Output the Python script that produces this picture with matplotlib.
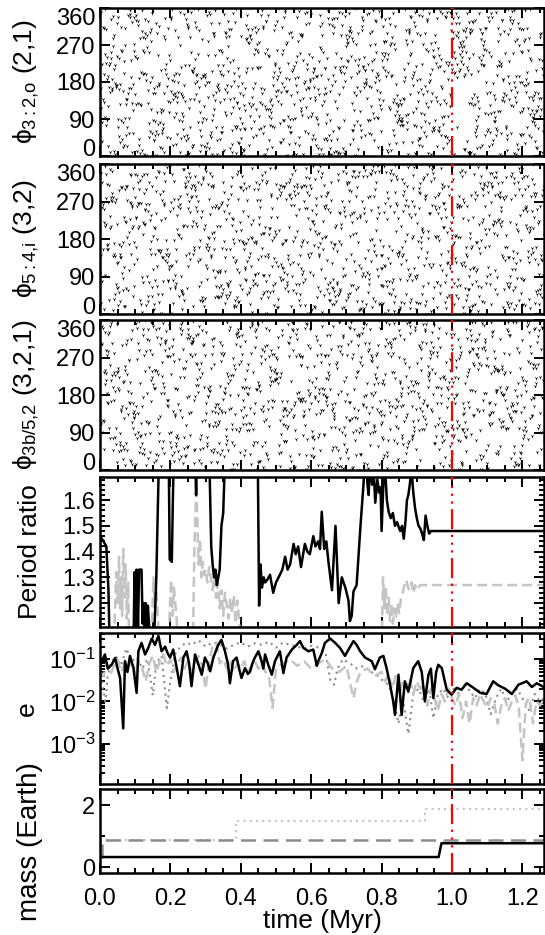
import numpy as np
import matplotlib
matplotlib.use("Agg")
import matplotlib.pyplot as plt
from matplotlib.ticker import MultipleLocator, LogLocator, NullFormatter, FixedLocator

plt.rcParams['font.family'] = ['Liberation Sans', 'DejaVu Sans']
plt.rcParams['mathtext.fontset'] = 'custom'
plt.rcParams['mathtext.rm'] = 'Liberation Sans'
plt.rcParams['mathtext.it'] = 'Liberation Sans'

# ---- data ----
# period ratio, outer pair (black) and inner pair (grey dashed); values off the axis are clipped
pr_black_t = [0.000, 0.010, 0.018, 0.024, 0.028, 0.095, 0.098, 0.101, 0.104, 0.108, 0.111, 0.118,
              0.121, 0.124, 0.127, 0.130, 0.133, 0.136, 0.140, 0.145, 0.152, 0.160, 0.168, 0.195,
              0.198, 0.204, 0.207, 0.210, 0.270, 0.273, 0.276, 0.310, 0.316, 0.320, 0.324, 0.328,
              0.332, 0.336, 0.340, 0.345, 0.350, 0.356, 0.448, 0.452, 0.456, 0.460, 0.465, 0.469,
              0.475, 0.483, 0.492, 0.500, 0.511, 0.518, 0.526, 0.533, 0.540, 0.550, 0.556, 0.563,
              0.571, 0.582, 0.589, 0.596, 0.606, 0.612, 0.620, 0.625, 0.630, 0.637, 0.643, 0.649,
              0.659, 0.669, 0.673, 0.678, 0.687, 0.697, 0.706, 0.710, 0.715, 0.720, 0.729, 0.740,
              0.749, 0.754, 0.760, 0.763, 0.768, 0.773, 0.778, 0.782, 0.788, 0.793, 0.797, 0.800,
              0.805, 0.810, 0.815, 0.820, 0.826, 0.832, 0.838, 0.844, 0.850, 0.853, 0.858, 0.863,
              0.868, 0.872, 0.876, 0.880, 0.885, 0.890, 0.895, 0.900, 0.905, 0.910, 0.915, 0.920,
              0.925, 0.930, 0.935, 0.940, 1.265]
pr_black = [1.46, 1.44, 1.42, 1.25, 1.00, 1.00, 1.32, 1.10, 1.33, 1.10, 1.33, 1.33,
            1.12, 1.20, 1.10, 1.20, 1.10, 1.19, 1.10, 1.00, 1.00, 1.30, 1.80, 1.80,
            1.37, 1.36, 1.60, 1.80, 1.80, 1.62, 1.80, 1.80, 1.42, 1.35, 1.30, 1.33,
            1.27, 1.30, 1.33, 1.50, 1.55, 1.80, 1.80, 1.19, 1.35, 1.26, 1.30, 1.28,
            1.29, 1.31, 1.24, 1.28, 1.31, 1.33, 1.38, 1.33, 1.35, 1.43, 1.39, 1.42,
            1.34, 1.43, 1.40, 1.39, 1.46, 1.42, 1.44, 1.41, 1.555, 1.41, 1.44, 1.36,
            1.25, 1.50, 1.37, 1.20, 1.30, 1.26, 1.21, 1.13, 1.15, 1.245, 1.27, 1.50,
            1.67, 1.80, 1.66, 1.62, 1.75, 1.66, 1.70, 1.59, 1.68, 1.63, 1.65, 1.48,
            1.66, 1.72, 1.60, 1.555, 1.53, 1.55, 1.50, 1.515, 1.49, 1.48, 1.50, 1.45,
            1.52, 1.60, 1.62, 1.66, 1.72, 1.63, 1.57, 1.53, 1.50, 1.49, 1.47, 1.445,
            1.54, 1.50, 1.47, 1.48, 1.48]

pr_grey_t = [0.000, 0.040, 0.042, 0.046, 0.050, 0.054, 0.057, 0.060, 0.063, 0.066, 0.070, 0.073,
             0.076, 0.080, 0.083, 0.145, 0.148, 0.152, 0.156, 0.160, 0.165, 0.170, 0.195, 0.198,
             0.202, 0.206, 0.210, 0.214, 0.218, 0.222, 0.262, 0.265, 0.268, 0.271, 0.274, 0.277,
             0.280, 0.284, 0.288, 0.292, 0.296, 0.300, 0.305, 0.310, 0.315, 0.320, 0.325, 0.330,
             0.335, 0.340, 0.345, 0.350, 0.355, 0.360, 0.365, 0.370, 0.375, 0.380, 0.385, 0.390,
             0.395, 0.400, 0.800, 0.804, 0.808, 0.812, 0.816, 0.820, 0.824, 0.828, 0.832, 0.836,
             0.840, 0.845, 0.850, 0.855, 0.860, 0.865, 0.870, 0.875, 0.880, 0.885, 0.890, 0.895,
             0.900, 0.910, 0.930, 1.265]
pr_grey = [1.00, 1.00, 1.15, 1.32, 1.20, 1.38, 1.18, 1.30, 1.15, 1.41, 1.22, 1.35,
           1.14, 1.28, 1.00, 1.00, 1.14, 1.30, 1.18, 1.24, 1.13, 1.00, 1.00, 1.17,
           1.29, 1.15, 1.26, 1.20, 1.13, 1.00, 1.00, 1.13, 1.40, 1.55, 1.66, 1.50,
           1.35, 1.45, 1.30, 1.36, 1.31, 1.33, 1.28, 1.34, 1.30, 1.25, 1.30, 1.22,
           1.28, 1.18, 1.25, 1.15, 1.24, 1.19, 1.14, 1.22, 1.16, 1.23, 1.12, 1.21,
           1.14, 1.00, 1.00, 1.30, 1.18, 1.26, 1.15, 1.22, 1.13, 1.20, 1.12, 1.18,
           1.14, 1.20, 1.16, 1.22, 1.24, 1.27, 1.29, 1.26, 1.25, 1.28, 1.24, 1.27,
           1.25, 1.27, 1.27, 1.27]

# eccentricities
e_black_t = [0.000, 0.005, 0.014, 0.022, 0.033, 0.043, 0.050, 0.057, 0.066, 0.071, 0.078, 0.085,
             0.095, 0.104, 0.109, 0.118, 0.128, 0.137, 0.147, 0.156, 0.166, 0.175, 0.185, 0.192,
             0.199, 0.208, 0.218, 0.227, 0.237, 0.246, 0.253, 0.260, 0.270, 0.280, 0.289, 0.298,
             0.306, 0.313, 0.322, 0.336, 0.345, 0.355, 0.364, 0.369, 0.378, 0.388, 0.397, 0.402,
             0.412, 0.420, 0.426, 0.433, 0.440, 0.450, 0.459, 0.464, 0.469, 0.478, 0.488, 0.497,
             0.511, 0.521, 0.530, 0.545, 0.559, 0.568, 0.578, 0.592, 0.606, 0.616, 0.620, 0.630,
             0.639, 0.654, 0.668, 0.682, 0.696, 0.706, 0.720, 0.729, 0.739, 0.753, 0.762, 0.772,
             0.781, 0.795, 0.805, 0.814, 0.824, 0.833, 0.838, 0.848, 0.857, 0.866, 0.876, 0.890,
             0.904, 0.914, 0.923, 0.933, 0.940, 0.947, 0.955, 0.961, 0.971, 0.985, 0.999, 1.013,
             1.027, 1.042, 1.061, 1.080, 1.098, 1.117, 1.132, 1.151, 1.170, 1.189, 1.212, 1.227,
             1.241, 1.260]
e_black = [0.07, 0.089, 0.13, 0.06, 0.074, 0.107, 0.06, 0.036, 0.0023, 0.09, 0.05, 0.12,
           0.062, 0.016, 0.155, 0.245, 0.13, 0.185, 0.31, 0.22, 0.36, 0.155, 0.2, 0.14,
           0.11, 0.17, 0.062, 0.023, 0.11, 0.155, 0.08, 0.023, 0.13, 0.074, 0.043, 0.11,
           0.08, 0.052, 0.11, 0.22, 0.29, 0.155, 0.074, 0.027, 0.09, 0.11, 0.052, 0.036,
           0.062, 0.045, 0.05, 0.08, 0.11, 0.155, 0.09, 0.06, 0.13, 0.074, 0.043, 0.09,
           0.155, 0.047, 0.11, 0.17, 0.22, 0.27, 0.185, 0.155, 0.17, 0.07, 0.09, 0.14,
           0.245, 0.31, 0.245, 0.185, 0.12, 0.17, 0.27, 0.22, 0.155, 0.11, 0.10, 0.09,
           0.058, 0.11, 0.12, 0.062, 0.025, 0.010, 0.0048, 0.043, 0.0048, 0.03, 0.017, 0.062,
           0.09, 0.05, 0.010, 0.043, 0.06, 0.012, 0.05, 0.074, 0.062, 0.019, 0.0145, 0.021,
           0.019, 0.027, 0.021, 0.016, 0.015, 0.03, 0.024, 0.02, 0.015, 0.025, 0.03, 0.022,
           0.027, 0.022]

e_dash_t = [0.000, 0.010, 0.020, 0.030, 0.040, 0.050, 0.060, 0.070, 0.080, 0.090, 0.100, 0.110,
            0.120, 0.130, 0.140, 0.150, 0.160, 0.170, 0.180, 0.190, 0.200, 0.210, 0.220, 0.230,
            0.240, 0.250, 0.260, 0.270, 0.280, 0.290, 0.300, 0.310, 0.320, 0.330, 0.340, 0.350,
            0.360, 0.370, 0.380, 0.390, 0.400, 0.410, 0.420, 0.430, 0.440, 0.450, 0.460, 0.470,
            0.480, 0.490, 0.500, 0.520, 0.540, 0.560, 0.580, 0.600, 0.620, 0.640, 0.660, 0.680,
            0.700, 0.720, 0.730, 0.740, 0.760, 0.780, 0.800, 0.810, 0.820, 0.830, 0.840, 0.850,
            0.860, 0.870, 0.880, 0.890, 0.900, 0.910, 0.920, 0.930, 0.940, 0.950, 0.960, 0.970,
            0.980, 0.990, 1.000, 1.010, 1.020, 1.030, 1.040, 1.050, 1.060, 1.070, 1.080, 1.090,
            1.100, 1.110, 1.120, 1.130, 1.140, 1.150, 1.160, 1.170, 1.180, 1.190, 1.200, 1.210,
            1.220, 1.230, 1.240, 1.250, 1.260]
e_dash = [0.05, 0.04, 0.08, 0.045, 0.07, 0.10, 0.05, 0.08, 0.06, 0.10, 0.045, 0.09,
          0.06, 0.03, 0.08, 0.12, 0.05, 0.09, 0.13, 0.07, 0.10, 0.05, 0.08, 0.11,
          0.06, 0.09, 0.05, 0.08, 0.12, 0.07, 0.02, 0.09, 0.20, 0.25, 0.08, 0.10,
          0.06, 0.09, 0.05, 0.08, 0.06, 0.09, 0.05, 0.07, 0.09, 0.06, 0.08, 0.05,
          0.04, 0.007, 0.06, 0.08, 0.10, 0.07, 0.09, 0.06, 0.08, 0.10, 0.06, 0.05,
          0.07, 0.012, 0.03, 0.05, 0.06, 0.04, 0.05, 0.03, 0.045, 0.02, 0.04, 0.015,
          0.03, 0.02, 0.035, 0.015, 0.03, 0.02, 0.025, 0.008, 0.02, 0.012, 0.006, 0.015,
          0.01, 0.02, 0.012, 0.008, 0.015, 0.004, 0.01, 0.003, 0.012, 0.008, 0.015, 0.01,
          0.007, 0.012, 0.009, 0.003, 0.008, 0.012, 0.006, 0.01, 0.014, 0.007, 0.0004, 0.009,
          0.012, 0.003, 0.01, 0.008, 0.011]

e_dot_t = [0.000, 0.008, 0.015, 0.022, 0.030, 0.045, 0.060, 0.075, 0.090, 0.105, 0.120, 0.135,
           0.150, 0.160, 0.175, 0.190, 0.200, 0.215, 0.230, 0.245, 0.260, 0.280, 0.300, 0.320,
           0.340, 0.360, 0.380, 0.400, 0.420, 0.440, 0.460, 0.480, 0.500, 0.520, 0.540, 0.560,
           0.580, 0.600, 0.620, 0.640, 0.655, 0.665, 0.675, 0.690, 0.710, 0.730, 0.750, 0.770,
           0.790, 0.805, 0.820, 0.835, 0.848, 0.860, 0.876, 0.890, 0.905, 0.920, 0.935, 0.947,
           0.960, 0.975, 0.990, 1.005, 1.020, 1.035, 1.050, 1.065, 1.080, 1.095, 1.110, 1.125,
           1.140, 1.155, 1.170, 1.185, 1.200, 1.220, 1.235, 1.250, 1.260]
e_dot = [0.06, 0.02, 0.01, 0.04, 0.08, 0.12, 0.07, 0.18, 0.09, 0.11, 0.06, 0.10,
         0.014, 0.08, 0.12, 0.007, 0.03, 0.15, 0.20, 0.25, 0.22, 0.28, 0.20, 0.25,
         0.23, 0.18, 0.22, 0.25, 0.20, 0.24, 0.22, 0.26, 0.19, 0.25, 0.22, 0.20,
         0.18, 0.21, 0.19, 0.15, 0.03, 0.025, 0.06, 0.10, 0.08, 0.06, 0.07, 0.05,
         0.04, 0.03, 0.025, 0.01, 0.003, 0.012, 0.0017, 0.015, 0.02, 0.01, 0.02, 0.004,
         0.015, 0.02, 0.012, 0.02, 0.015, 0.025, 0.018, 0.012, 0.02, 0.015, 0.005, 0.012,
         0.02, 0.01, 0.015, 0.02, 0.012, 0.006, 0.015, 0.01, 0.012]

# masses (Earth masses), step functions
m_black_t = [0.000, 0.962, 0.970, 1.265]
m_black = [0.335, 0.335, 0.78, 0.78]
m_dash_t = [0.000, 0.006, 1.265]
m_dash = [0.335, 0.90, 0.90]
m_dot_t = [0.000, 0.387, 0.922, 1.265]
m_dot = [0.90, 1.51, 1.87, 1.87]

# resonant angles circulate chaotically (resonance overlap): standard-map
# kick strength and starting state for each angle, one output every 1 kyr
t_out = np.arange(0.0, 1.265, 0.001)
kick = [6.9, 7.3, 8.1]
theta0 = [0.5, 1.7, 2.9]
p0 = [0.3, 0.9, 1.3]
phi_labels = [r'$\phi_{3{:}2{,}\mathrm{o}}$ (2,1)', r'$\phi_{5{:}4{,}\mathrm{i}}$ (3,2)',
              r'$\phi_{3\mathrm{b}/5{,}2}$ (3,2,1)']

t_instab = 1.0

# ---- layout (pixel rows of each panel) ----
W, H = 545, 935
rows = [(8, 156), (164, 314), (320, 470), (477, 627), (633, 784), (789, 873)]
x0, x1 = 100, 544

fig = plt.figure(figsize=(W / 100, H / 100), dpi=100)
axes = []
for top, bot in rows:
    ax = fig.add_axes([x0 / W, 1 - bot / H, (x1 - x0) / W, (bot - top) / H])
    axes.append(ax)

red_ls = (0, (9, 2.5, 1, 2.5, 1, 2.5, 1, 2.5))
for ax in axes:
    ax.set_xlim(0, (x1 - x0) / 352.0)
    ax.xaxis.set_major_locator(MultipleLocator(0.2))
    ax.xaxis.set_minor_locator(MultipleLocator(0.05))
    ax.tick_params(which='both', direction='in', top=True, right=True, labelsize=17, width=1.4)
    ax.tick_params(which='major', length=7)
    ax.tick_params(which='minor', length=3.5)
    for s in ax.spines.values():
        s.set_linewidth(1.8)
    ax.axvline(t_instab, color='red', lw=1.6, ls=red_ls, zorder=5)
    if ax is not axes[-1]:
        ax.set_xticklabels([])


def circulate(K, th, p, n):
    out = np.empty(n)
    for j in range(n):
        out[j] = th
        p = p + K * np.sin(th)
        th = (th + p) % (2 * np.pi)
    return np.degrees(out)


# phase angle panels
for i in range(3):
    ax = axes[i]
    phi = circulate(kick[i], theta0[i], p0[i], len(t_out))
    ax.plot(t_out, phi, ls='none', marker='1', ms=2.6, mew=0.5, color='black')
    ax.set_ylim(0, 360)
    ax.set_yticks([0, 90, 180, 270, 360])
    ax.yaxis.set_minor_locator(FixedLocator([]))
    labs = ax.get_yticklabels()
    labs[0].set_va('baseline')
    labs[-1].set_va('top')
    top, bot = rows[i]
    fig.text(26 / W, 1 - (top + bot) / 2 / H, phi_labels[i], rotation=90,
             ha='center', va='center', fontsize=19)

# period ratio
ax = axes[3]
ax.plot(pr_grey_t, pr_grey, color='#c4c4c4', lw=1.8, ls=(0, (4, 2)))
ax.plot(pr_black_t, pr_black, color='black', lw=1.8)
ax.set_ylim(1.107, 1.69)
ax.yaxis.set_minor_locator(MultipleLocator(0.02))
ax.set_yticks([1.2, 1.3, 1.4, 1.5, 1.6])
fig.text(30 / W, 1 - 552 / H, 'Period ratio', rotation=90, ha='center', va='center', fontsize=19)

# eccentricity
ax = axes[4]
ax.plot(e_dot_t, e_dot, color='#8c8c8c', lw=1.5, ls=(0, (1, 2)))
ax.plot(e_dash_t, e_dash, color='#c4c4c4', lw=1.8, ls=(0, (4, 2)))
ax.plot(e_black_t, e_black, color='black', lw=1.8)
ax.set_yscale('log')
ax.set_ylim(1.1e-4, 0.42)
ax.set_yticks([1e-3, 1e-2, 1e-1])
ax.yaxis.set_minor_locator(LogLocator(base=10, subs=np.arange(2, 10)))
ax.yaxis.set_minor_formatter(NullFormatter())
fig.text(27 / W, 1 - 709 / H, 'e', rotation=90, ha='center', va='center', fontsize=19)

# mass
ax = axes[5]
ax.plot(m_dot_t, m_dot, color='#c4c4c4', lw=1.5, ls=(0, (1, 2)), drawstyle='steps-post')
ax.plot(m_dash_t, m_dash, color='#8c8c8c', lw=1.8, ls=(0, (6, 3)), drawstyle='steps-post')
ax.plot(m_black_t, m_black, color='black', lw=1.8)
ax.set_ylim(-0.18, 2.53)
ax.set_yticks([0, 2])
ax.yaxis.set_minor_locator(FixedLocator([1]))
ax.set_xticks([0.0, 0.2, 0.4, 0.6, 0.8, 1.0, 1.2])
ax.set_xticklabels(['0.0', '0.2', '0.4', '0.6', '0.8', '1.0', '1.2'])
ax.tick_params(axis='x', pad=11)
fig.text(30 / W, 1 - 842 / H, 'mass (Earth)', rotation=90, ha='center', va='center', fontsize=20)
fig.text((x0 + x1) / 2 / W, 1 - 921 / H, 'time (Myr)', ha='center', va='center', fontsize=19)

fig.savefig('out.png', dpi=100)
